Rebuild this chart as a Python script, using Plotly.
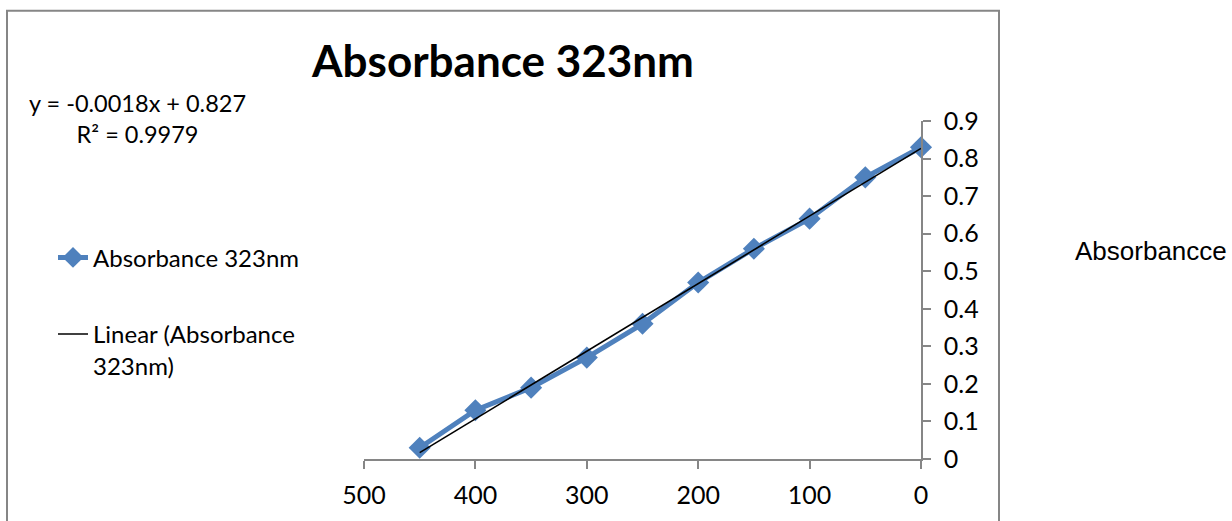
import plotly.graph_objects as go

# Wavelength-series readings (x) and absorbance at 323 nm (y)
concentration = [450, 400, 350, 300, 250, 200, 150, 100, 50, 0]
absorbance = [0.03, 0.13, 0.19, 0.27, 0.36, 0.47, 0.56, 0.64, 0.75, 0.83]

# Linear trendline coefficients
slope = -0.0018
intercept = 0.827
r_squared = 0.9979

x_ticks = [0, 100, 200, 300, 400, 500]
y_ticks = [0, 0.1, 0.2, 0.3, 0.4, 0.5, 0.6, 0.7, 0.8, 0.9]

BLUE = "#4F81BD"
AXIS_GRAY = "#868686"
FONT = "Lato"

trend_x = [max(concentration), min(concentration)]
trend_y = [slope * v + intercept for v in trend_x]

fig = go.Figure()

fig.add_trace(go.Scatter(
    x=concentration, y=absorbance,
    mode="lines+markers",
    name="Absorbance 323nm",
    line=dict(color=BLUE, width=5),
    marker=dict(symbol="diamond", size=17, color=BLUE),
    cliponaxis=False,
    legend="legend",
))

fig.add_trace(go.Scatter(
    x=trend_x, y=trend_y,
    mode="lines",
    name="Linear (Absorbance<br>323nm)",
    line=dict(color="black", width=1.6),
    cliponaxis=False,
    legend="legend2",
))

W, H = 1232, 521
L, R, T, B = 364, 311, 121, 60
pw, ph = W - L - R, H - T - B


def px_x(v):
    return (v - L) / pw


def px_y(v):
    return (H - B - v) / ph


fig.update_layout(
    width=W, height=H,
    margin=dict(l=L, r=R, t=T, b=B),
    paper_bgcolor="white",
    plot_bgcolor="white",
    font=dict(family=FONT, size=20, color="black"),
    title=dict(
        text="<b>Absorbance 323nm</b>",
        x=503 / W, xanchor="center",
        y=1 - 62 / H, yanchor="middle",
        font=dict(family=FONT, size=44, color="black"),
    ),
    xaxis=dict(
        range=[500, 0],
        tickvals=x_ticks,
        ticks="outside", ticklen=8, tickcolor=AXIS_GRAY, tickwidth=1.5,
        showline=True, linecolor=AXIS_GRAY, linewidth=1.5,
        showgrid=False, zeroline=False,
        tickfont=dict(family=FONT, size=25),
        ticklabelstandoff=5,
    ),
    yaxis=dict(
        range=[0, 0.9],
        side="right",
        tickvals=y_ticks,
        ticks="outside", ticklen=8, tickcolor=AXIS_GRAY, tickwidth=1.5,
        showline=True, linecolor=AXIS_GRAY, linewidth=1.5,
        showgrid=False, zeroline=False,
        tickfont=dict(family=FONT, size=25),
        ticklabelstandoff=8,
    ),
    legend=dict(
        x=px_x(53), y=px_y(236), xanchor="left", yanchor="top",
        bgcolor="rgba(0,0,0,0)", font=dict(family=FONT, size=24),
    ),
    legend2=dict(
        x=px_x(53), y=px_y(313), xanchor="left", yanchor="top",
        valign="top",
        bgcolor="rgba(0,0,0,0)", font=dict(family=FONT, size=24),
    ),
    showlegend=True,
)

# Outer chart frame
fig.add_shape(
    type="rect", xref="paper", yref="paper",
    x0=px_x(7), x1=px_x(999), y0=px_y(540), y1=px_y(10),
    line=dict(color=AXIS_GRAY, width=2), fillcolor="rgba(0,0,0,0)",
    layer="below",
)

# Trendline equation
fig.add_annotation(
    xref="paper", yref="paper",
    x=px_x(137), y=px_y(118),
    xanchor="center", yanchor="middle", align="center",
    text=f"y = {slope}x + {intercept}<br>R² = {r_squared}",
    showarrow=False,
    font=dict(family=FONT, size=23.5, color="black"),
)

fig.add_annotation(
    xref="paper", yref="paper",
    x=px_x(1073), y=px_y(252),
    xanchor="left", yanchor="middle",
    text="Absorbancce",
    showarrow=False,
    font=dict(family="Liberation Sans", size=26, color="black"),
)

fig.write_html("out.html")
